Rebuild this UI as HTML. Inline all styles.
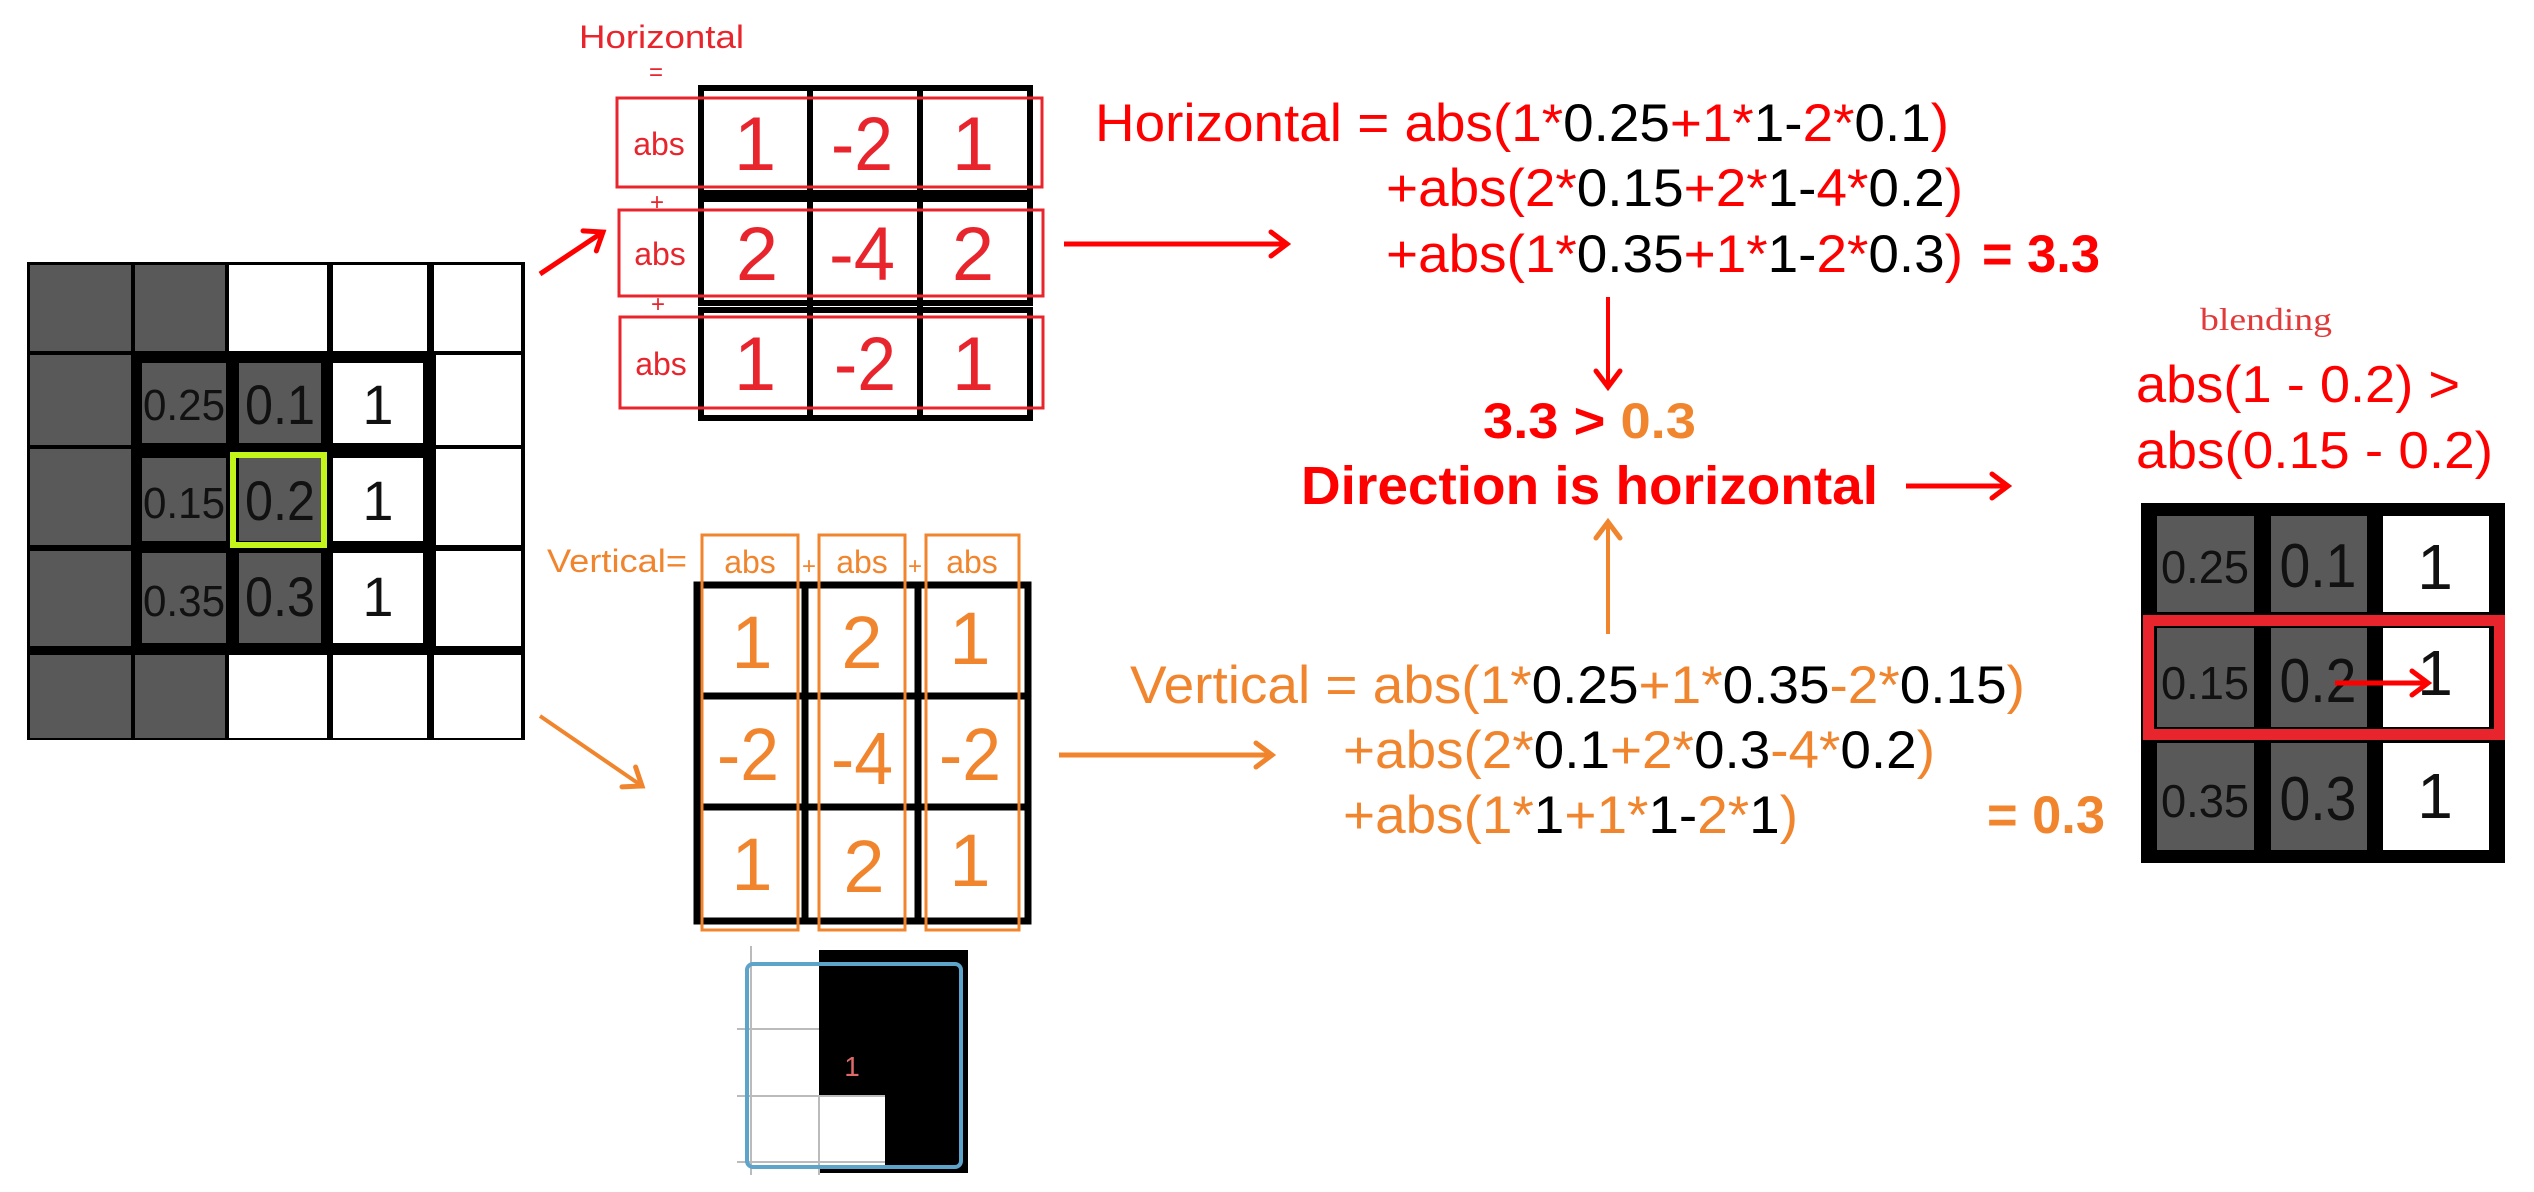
<!DOCTYPE html>
<html><head><meta charset="utf-8"><style>
html,body{margin:0;padding:0;background:#fff;}
svg{display:block;}
text{font-family:"Liberation Sans",sans-serif;}
</style></head><body>
<svg width="2534" height="1192" viewBox="0 0 2534 1192" xmlns="http://www.w3.org/2000/svg">
<defs>
<marker id="ar" markerWidth="30" markerHeight="30" refX="26" refY="15" orient="auto" markerUnits="userSpaceOnUse" viewBox="0 0 30 30"><path d="M10,3 L26,15 L10,27" fill="none" stroke="#f00" stroke-width="5" stroke-linecap="round"/></marker>
<marker id="ao" markerWidth="30" markerHeight="30" refX="26" refY="15" orient="auto" markerUnits="userSpaceOnUse" viewBox="0 0 30 30"><path d="M10,3 L26,15 L10,27" fill="none" stroke="#f0852d" stroke-width="5" stroke-linecap="round"/></marker>
</defs>

<!-- Left grid -->
<rect x="27" y="262" width="498" height="478" fill="#000"/>
<g fill="#595959">
<rect x="30" y="265" width="101" height="86"/><rect x="135" y="265" width="90" height="86"/>
<rect x="30" y="355" width="101" height="90"/><rect x="30" y="449" width="101" height="96"/><rect x="30" y="551" width="101" height="95"/>
<rect x="30" y="655" width="101" height="83"/><rect x="135" y="655" width="90" height="83"/>
<rect x="142" y="363" width="84" height="80"/><rect x="239" y="363" width="82" height="80"/>
<rect x="142" y="458" width="84" height="83"/><rect x="239" y="458" width="82" height="83"/>
<rect x="142" y="553" width="84" height="90"/><rect x="239" y="553" width="82" height="90"/>
</g>
<g fill="#fff">
<rect x="229" y="265" width="98" height="86"/><rect x="333" y="265" width="94" height="86"/><rect x="434" y="265" width="87" height="86"/>
<rect x="333" y="363" width="90" height="80"/><rect x="436" y="355" width="85" height="90"/>
<rect x="333" y="458" width="90" height="83"/><rect x="436" y="449" width="85" height="96"/>
<rect x="333" y="553" width="90" height="90"/><rect x="436" y="551" width="85" height="95"/>
<rect x="229" y="655" width="98" height="83"/><rect x="333" y="655" width="94" height="83"/><rect x="434" y="655" width="87" height="83"/>
</g>
<rect x="233" y="455" width="91" height="90" fill="none" stroke="#c3f51a" stroke-width="6"/>
<g fill="#111" text-anchor="middle">
<text x="184" y="420" font-size="44" textLength="82" lengthAdjust="spacingAndGlyphs">0.25</text><text x="280" y="424" font-size="56" textLength="70" lengthAdjust="spacingAndGlyphs">0.1</text><text x="378" y="424" font-size="56">1</text>
<text x="184" y="518" font-size="44" textLength="82" lengthAdjust="spacingAndGlyphs">0.15</text><text x="280" y="520" font-size="56" textLength="70" lengthAdjust="spacingAndGlyphs">0.2</text><text x="378" y="520" font-size="56">1</text>
<text x="184" y="616" font-size="44" textLength="82" lengthAdjust="spacingAndGlyphs">0.35</text><text x="280" y="616" font-size="56" textLength="70" lengthAdjust="spacingAndGlyphs">0.3</text><text x="378" y="616" font-size="56">1</text>
</g>

<!-- arrows from grid -->
<line x1="540" y1="274" x2="603" y2="232" stroke="#f00" stroke-width="5" marker-end="url(#ar)"/>
<line x1="540" y1="716" x2="642" y2="786" stroke="#f0852d" stroke-width="4" marker-end="url(#ao)"/>

<!-- Horizontal kernel -->
<text x="579" y="48" font-size="32" fill="#e8242c" textLength="165" lengthAdjust="spacingAndGlyphs">Horizontal</text>
<text x="656" y="80" font-size="24" fill="#e8242c" text-anchor="middle">=</text>
<g fill="#fff" stroke="#000" stroke-width="6">
<rect x="701" y="88" width="329" height="105"/><rect x="701" y="199" width="329" height="104"/><rect x="701" y="310" width="329" height="108"/>
</g>
<g stroke="#000" stroke-width="6">
<line x1="810" y1="88" x2="810" y2="418"/><line x1="920" y1="88" x2="920" y2="418"/>
</g>
<g fill="none" stroke="#e8242c" stroke-width="3">
<rect x="617" y="98" width="425" height="89"/><rect x="619" y="210" width="424" height="86"/><rect x="620" y="317" width="423" height="91"/>
</g>
<g fill="#e8242c" text-anchor="middle">
<text x="659" y="155" font-size="32">abs</text><text x="660" y="265" font-size="32">abs</text><text x="661" y="375" font-size="32">abs</text>
<text x="657" y="210" font-size="24">+</text><text x="658" y="312" font-size="24">+</text>
<g font-size="76">
<text x="755" y="170">1</text><text x="862" y="170" textLength="62" lengthAdjust="spacingAndGlyphs">-2</text><text x="973" y="170">1</text>
<text x="757" y="280">2</text><text x="862" y="280" textLength="66" lengthAdjust="spacingAndGlyphs">-4</text><text x="973" y="280">2</text>
<text x="755" y="390">1</text><text x="865" y="390" textLength="62" lengthAdjust="spacingAndGlyphs">-2</text><text x="973" y="390">1</text>
</g></g>

<!-- Vertical kernel -->
<text x="547" y="572" font-size="32" fill="#f0852d" textLength="140" lengthAdjust="spacingAndGlyphs">Vertical=</text>
<rect x="697" y="585" width="331" height="336" fill="#fff" stroke="#000" stroke-width="7"/>
<g stroke="#000" stroke-width="7">
<line x1="805" y1="585" x2="805" y2="921"/><line x1="918" y1="585" x2="918" y2="921"/>
<line x1="697" y1="696" x2="1028" y2="696"/><line x1="697" y1="807" x2="1028" y2="807"/>
</g>
<g fill="none" stroke="#f0852d" stroke-width="3">
<rect x="702" y="535" width="96" height="395"/><rect x="819" y="535" width="86" height="395"/><rect x="926" y="535" width="93" height="395"/>
</g>
<g fill="#f0852d" text-anchor="middle">
<text x="750" y="573" font-size="32">abs</text><text x="862" y="573" font-size="32">abs</text><text x="972" y="573" font-size="32">abs</text>
<text x="809" y="574" font-size="24">+</text><text x="915" y="574" font-size="24">+</text>
<g font-size="74">
<text x="752" y="668">1</text><text x="862" y="668">2</text><text x="970" y="664">1</text>
<text x="748" y="780" textLength="62" lengthAdjust="spacingAndGlyphs">-2</text><text x="862" y="784" textLength="62" lengthAdjust="spacingAndGlyphs">-4</text><text x="970" y="780" textLength="62" lengthAdjust="spacingAndGlyphs">-2</text>
<text x="752" y="890">1</text><text x="864" y="892">2</text><text x="970" y="886">1</text>
</g></g>

<!-- small bottom diagram -->
<rect x="819" y="950" width="149" height="223" fill="#000"/>
<rect x="819" y="1096" width="66" height="70" fill="#fff"/>
<g stroke="#bbb" stroke-width="2">
<line x1="751" y1="946" x2="751" y2="1175"/><line x1="819" y1="1096" x2="819" y2="1175"/>
<line x1="737" y1="1029" x2="819" y2="1029"/><line x1="737" y1="1096" x2="885" y2="1096"/><line x1="737" y1="1162" x2="885" y2="1162"/>
</g>
<rect x="747" y="964" width="214" height="203" rx="6" fill="none" stroke="#5ea3c9" stroke-width="4"/>
<text x="852" y="1076" font-size="28" fill="#e06a6a" text-anchor="middle">1</text>

<!-- Horizontal equation -->
<g font-size="53">
<text x="1095" y="141" textLength="854" lengthAdjust="spacingAndGlyphs"><tspan fill="#f00">Horizontal = abs(1*</tspan><tspan fill="#000">0.25</tspan><tspan fill="#f00">+1*</tspan><tspan fill="#000">1-</tspan><tspan fill="#f00">2*</tspan><tspan fill="#000">0.1</tspan><tspan fill="#f00">)</tspan></text>
<text x="1386" y="206" textLength="577" lengthAdjust="spacingAndGlyphs"><tspan fill="#f00">+abs(2*</tspan><tspan fill="#000">0.15</tspan><tspan fill="#f00">+2*</tspan><tspan fill="#000">1-</tspan><tspan fill="#f00">4*</tspan><tspan fill="#000">0.2</tspan><tspan fill="#f00">)</tspan></text>
<text x="1386" y="272" textLength="577" lengthAdjust="spacingAndGlyphs"><tspan fill="#f00">+abs(1*</tspan><tspan fill="#000">0.35</tspan><tspan fill="#f00">+1*</tspan><tspan fill="#000">1-</tspan><tspan fill="#f00">2*</tspan><tspan fill="#000">0.3</tspan><tspan fill="#f00">)</tspan></text>
<text x="1982" y="272" fill="#f00" font-weight="bold" textLength="118" lengthAdjust="spacingAndGlyphs">= 3.3</text>
</g>
<line x1="1064" y1="244" x2="1287" y2="244" stroke="#f00" stroke-width="5" marker-end="url(#ar)"/>
<line x1="1608" y1="297" x2="1608" y2="387" stroke="#f00" stroke-width="4" marker-end="url(#ar)"/>

<text x="1483" y="438" font-size="50" font-weight="bold" textLength="213" lengthAdjust="spacingAndGlyphs"><tspan fill="#f00">3.3 &gt; </tspan><tspan fill="#f0852d">0.3</tspan></text>
<text x="1301" y="504" font-size="54" font-weight="bold" fill="#f00" textLength="577" lengthAdjust="spacingAndGlyphs">Direction is horizontal</text>
<line x1="1906" y1="486" x2="2008" y2="486" stroke="#f00" stroke-width="5" marker-end="url(#ar)"/>
<line x1="1608" y1="634" x2="1608" y2="522" stroke="#f0852d" stroke-width="4" marker-end="url(#ao)"/>

<!-- Vertical equation -->
<g font-size="53">
<text x="1130" y="703" textLength="895" lengthAdjust="spacingAndGlyphs"><tspan fill="#f0852d">Vertical = abs(1*</tspan><tspan fill="#000">0.25</tspan><tspan fill="#f0852d">+1*</tspan><tspan fill="#000">0.35</tspan><tspan fill="#f0852d">-2*</tspan><tspan fill="#000">0.15</tspan><tspan fill="#f0852d">)</tspan></text>
<text x="1343" y="768" textLength="592" lengthAdjust="spacingAndGlyphs"><tspan fill="#f0852d">+abs(2*</tspan><tspan fill="#000">0.1</tspan><tspan fill="#f0852d">+2*</tspan><tspan fill="#000">0.3</tspan><tspan fill="#f0852d">-4*</tspan><tspan fill="#000">0.2</tspan><tspan fill="#f0852d">)</tspan></text>
<text x="1343" y="833" textLength="455" lengthAdjust="spacingAndGlyphs"><tspan fill="#f0852d">+abs(1*</tspan><tspan fill="#000">1</tspan><tspan fill="#f0852d">+1*</tspan><tspan fill="#000">1-</tspan><tspan fill="#f0852d">2*</tspan><tspan fill="#000">1</tspan><tspan fill="#f0852d">)</tspan></text>
<text x="1987" y="833" fill="#f0852d" font-weight="bold" textLength="118" lengthAdjust="spacingAndGlyphs">= 0.3</text>
</g>
<line x1="1059" y1="755" x2="1272" y2="755" stroke="#f0852d" stroke-width="5" marker-end="url(#ao)"/>

<!-- blending -->
<text x="2200" y="330" style="font-family:'Liberation Serif',serif" font-size="32" fill="#e03a3a" textLength="132" lengthAdjust="spacingAndGlyphs">blending</text>
<text x="2136" y="402" font-size="52" fill="#f00" textLength="324" lengthAdjust="spacingAndGlyphs">abs(1 - 0.2) &gt;</text>
<text x="2136" y="468" font-size="52" fill="#f00" textLength="357" lengthAdjust="spacingAndGlyphs">abs(0.15 - 0.2)</text>

<!-- right grid -->
<rect x="2141" y="503" width="364" height="360" fill="#000"/>
<g fill="#595959">
<rect x="2157" y="516" width="97" height="96"/><rect x="2271" y="516" width="96" height="96"/>
<rect x="2157" y="627" width="97" height="101"/><rect x="2271" y="627" width="96" height="101"/>
<rect x="2157" y="743" width="97" height="107"/><rect x="2271" y="743" width="96" height="107"/>
</g>
<g fill="#fff">
<rect x="2383" y="516" width="106" height="96"/><rect x="2383" y="627" width="106" height="101"/><rect x="2383" y="743" width="106" height="107"/>
</g>
<rect x="2149" y="621" width="350" height="113" fill="none" stroke="#e8242c" stroke-width="12"/>
<rect x="2155" y="627" width="338" height="101" fill="none" stroke="#000" stroke-width="2"/>
<g fill="#111" text-anchor="middle">
<text x="2205" y="583" font-size="46" textLength="88" lengthAdjust="spacingAndGlyphs">0.25</text><text x="2318" y="587" font-size="62" textLength="77" lengthAdjust="spacingAndGlyphs">0.1</text><text x="2435" y="589" font-size="64">1</text>
<text x="2205" y="699" font-size="46" textLength="88" lengthAdjust="spacingAndGlyphs">0.15</text><text x="2318" y="702" font-size="62" textLength="77" lengthAdjust="spacingAndGlyphs">0.2</text><text x="2435" y="695" font-size="64">1</text>
<text x="2205" y="817" font-size="46" textLength="88" lengthAdjust="spacingAndGlyphs">0.35</text><text x="2318" y="820" font-size="62" textLength="77" lengthAdjust="spacingAndGlyphs">0.3</text><text x="2435" y="818" font-size="64">1</text>
</g>
<line x1="2335" y1="683" x2="2428" y2="683" stroke="#f00" stroke-width="5" marker-end="url(#ar)"/>
</svg>
</body></html>
